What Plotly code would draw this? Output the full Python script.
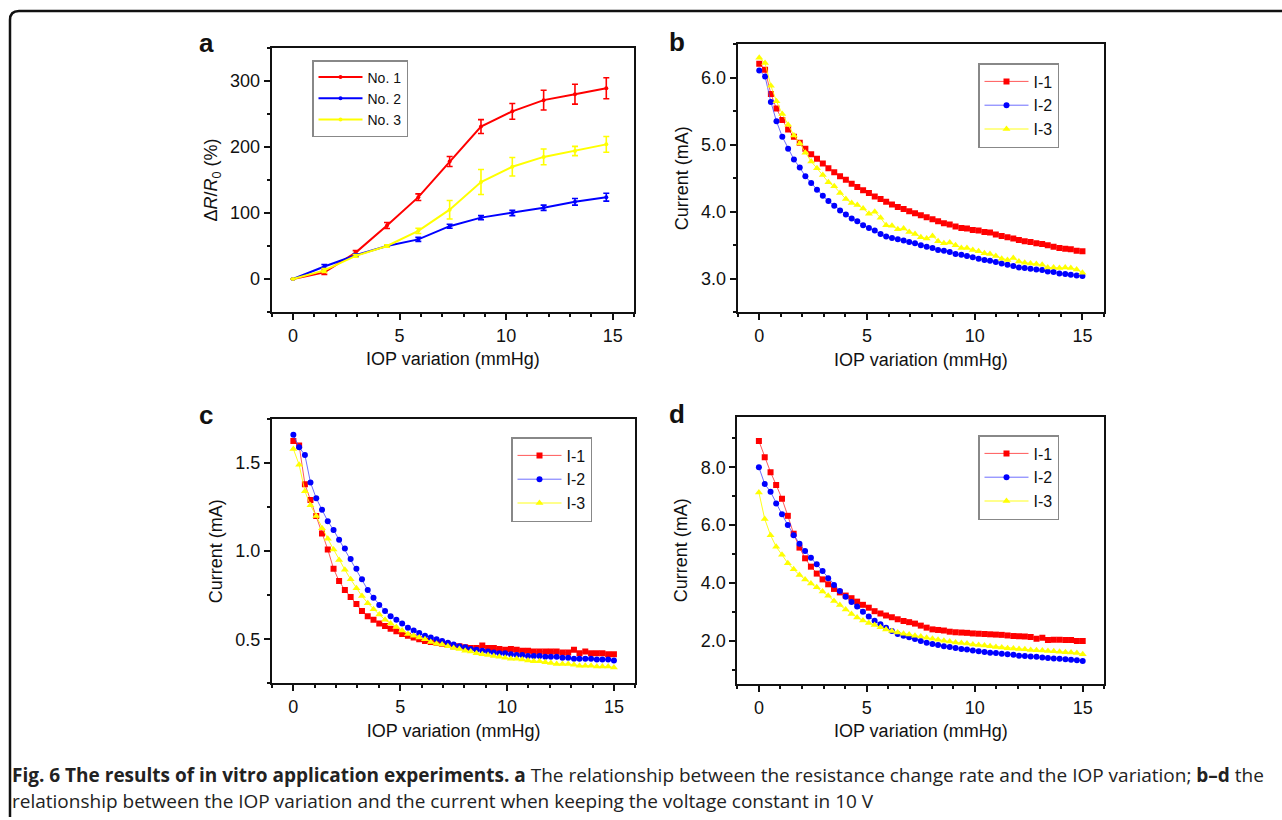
import plotly.graph_objects as go

W, H = 1282, 820

# ---------------- Panel a data ----------------
a_x = [0, 1.47, 2.94, 4.41, 5.88, 7.35, 8.82, 10.29, 11.76, 13.23, 14.7]
a_no1 = [0, 10, 40, 81, 124, 178, 231, 254, 271, 280, 289]
a_no1_err = [0, 3, 3, 4.5, 5, 7.5, 10.5, 12, 15, 15, 16]
a_no2 = [0, 19, 36, 50, 60, 80, 93, 100, 108, 117, 124]
a_no2_err = [0, 3, 2, 2, 3, 3, 3, 4, 4, 5, 6]
a_no3 = [0, 13, 35, 50, 73, 105, 147, 170, 185, 194, 204]
a_no3_err = [0, 3, 2, 2, 4, 14, 19, 14, 12, 7, 12]
a_names = ["No. 1", "No. 2", "No. 3"]

# ---------------- Panels b-d data ----------------
iop = [0, 0.27, 0.54, 0.80, 1.07, 1.34, 1.61, 1.88, 2.14, 2.41, 2.68, 2.95, 3.21, 3.48,
       3.75, 4.02, 4.29, 4.55, 4.82, 5.09, 5.36, 5.63, 5.89, 6.16, 6.43, 6.70, 6.96, 7.23,
       7.50, 7.77, 8.04, 8.30, 8.57, 8.84, 9.11, 9.38, 9.64, 9.91, 10.18, 10.45, 10.71,
       10.98, 11.25, 11.52, 11.79, 12.05, 12.32, 12.59, 12.86, 13.13, 13.39, 13.66, 13.93,
       14.20, 14.46, 14.73, 15.00]
i_names = ["I-1", "I-2", "I-3"]

b_i1 = [6.21, 6.12, 5.76, 5.54, 5.37, 5.23, 5.12, 5.03, 4.94, 4.86, 4.79, 4.72, 4.65, 4.59,
        4.53, 4.48, 4.42, 4.37, 4.32, 4.28, 4.23, 4.19, 4.15, 4.11, 4.07, 4.04, 4.01, 3.98,
        3.95, 3.92, 3.89, 3.86, 3.83, 3.81, 3.78, 3.76, 3.75, 3.73, 3.72, 3.70, 3.69, 3.66,
        3.64, 3.62, 3.60, 3.58, 3.56, 3.55, 3.53, 3.52, 3.50, 3.48, 3.46, 3.45, 3.44, 3.42,
        3.41]
b_i2 = [6.11, 6.02, 5.64, 5.35, 5.12, 4.94, 4.78, 4.66, 4.53, 4.43, 4.33, 4.24, 4.16, 4.09,
        4.02, 3.96, 3.90, 3.86, 3.80, 3.76, 3.72, 3.67, 3.63, 3.61, 3.59, 3.57, 3.55, 3.53,
        3.50, 3.48, 3.46, 3.43, 3.42, 3.40, 3.37, 3.36, 3.34, 3.32, 3.30, 3.28, 3.27, 3.25,
        3.23, 3.21, 3.19, 3.17, 3.16, 3.15, 3.14, 3.13, 3.11, 3.10, 3.08, 3.07, 3.06, 3.05,
        3.04]
b_i3 = [6.30, 6.22, 5.88, 5.65, 5.46, 5.30, 5.14, 5.02, 4.88, 4.75, 4.65, 4.55, 4.44, 4.38,
        4.28, 4.19, 4.13, 4.10, 4.05, 3.97, 4.00, 3.91, 3.80, 3.79, 3.74, 3.75, 3.70, 3.67,
        3.62, 3.60, 3.64, 3.56, 3.53, 3.54, 3.50, 3.46, 3.46, 3.43, 3.41, 3.38, 3.37, 3.34,
        3.30, 3.28, 3.31, 3.26, 3.24, 3.23, 3.22, 3.21, 3.17, 3.17, 3.16, 3.17, 3.16, 3.14,
        3.09]

c_i1 = [1.625, 1.60, 1.38, 1.29, 1.20, 1.10, 1.01, 0.90, 0.83, 0.78, 0.74, 0.70, 0.66, 0.63,
        0.61, 0.59, 0.575, 0.56, 0.545, 0.53, 0.52, 0.51, 0.50, 0.49, 0.485, 0.48, 0.475,
        0.47, 0.46, 0.46, 0.455, 0.45, 0.45, 0.465, 0.45, 0.45, 0.445, 0.44, 0.445, 0.44,
        0.435, 0.435, 0.43, 0.43, 0.43, 0.43, 0.43, 0.425, 0.425, 0.44, 0.42, 0.43, 0.42,
        0.42, 0.42, 0.415, 0.415]
c_i2 = [1.66, 1.59, 1.545, 1.39, 1.30, 1.235, 1.17, 1.12, 1.065, 1.015, 0.955, 0.90, 0.84,
        0.78, 0.735, 0.695, 0.66, 0.63, 0.61, 0.59, 0.565, 0.55, 0.535, 0.52, 0.51, 0.50,
        0.49, 0.48, 0.47, 0.46, 0.455, 0.445, 0.44, 0.435, 0.43, 0.425, 0.42, 0.42, 0.415,
        0.41, 0.41, 0.405, 0.405, 0.405, 0.40, 0.40, 0.40, 0.395, 0.395, 0.39, 0.39, 0.39,
        0.39, 0.385, 0.385, 0.385, 0.38]
c_i3 = [1.58, 1.49, 1.34, 1.26, 1.20, 1.13, 1.07, 1.01, 0.95, 0.895, 0.84, 0.79, 0.745,
        0.705, 0.67, 0.64, 0.61, 0.59, 0.57, 0.55, 0.53, 0.52, 0.51, 0.50, 0.485, 0.475,
        0.47, 0.46, 0.45, 0.445, 0.435, 0.43, 0.42, 0.415, 0.41, 0.405, 0.40, 0.395, 0.39,
        0.39, 0.385, 0.38, 0.375, 0.375, 0.37, 0.365, 0.36, 0.36, 0.36, 0.355, 0.35, 0.35,
        0.35, 0.345, 0.345, 0.345, 0.34]

d_i1 = [8.91, 8.35, 7.83, 7.39, 6.91, 6.32, 5.70, 5.22, 4.85, 4.56, 4.32, 4.12, 3.95, 3.79,
        3.67, 3.56, 3.47, 3.35, 3.24, 3.14, 3.02, 2.94, 2.87, 2.81, 2.74, 2.68, 2.64, 2.59,
        2.52, 2.45, 2.39, 2.37, 2.35, 2.31, 2.29, 2.28, 2.27, 2.25, 2.24, 2.23, 2.22, 2.21,
        2.20, 2.18, 2.16, 2.15, 2.14, 2.13, 2.07, 2.10, 2.02, 2.03, 2.03, 2.02, 2.02, 1.99,
        1.99]
d_i2 = [8.00, 7.42, 7.15, 6.75, 6.37, 6.00, 5.65, 5.35, 5.10, 4.87, 4.64, 4.41, 4.16, 3.93,
        3.72, 3.52, 3.34, 3.18, 3.00, 2.84, 2.69, 2.57, 2.45, 2.33, 2.23, 2.17, 2.12, 2.06,
        1.99, 1.93, 1.88, 1.85, 1.81, 1.78, 1.75, 1.71, 1.69, 1.66, 1.63, 1.61, 1.58, 1.57,
        1.55, 1.53, 1.51, 1.48, 1.47, 1.45, 1.44, 1.42, 1.40, 1.38, 1.37, 1.36, 1.34, 1.32,
        1.30]
d_i3 = [7.13, 6.21, 5.65, 5.25, 4.97, 4.68, 4.47, 4.27, 4.12, 3.98, 3.85, 3.70, 3.55, 3.37,
        3.23, 3.08, 2.92, 2.80, 2.70, 2.61, 2.54, 2.46, 2.39, 2.33, 2.28, 2.24, 2.21, 2.17,
        2.14, 2.10, 2.07, 2.03, 2.00, 1.97, 1.94, 1.92, 1.90, 1.87, 1.85, 1.83, 1.81, 1.78,
        1.76, 1.74, 1.73, 1.71, 1.70, 1.68, 1.67, 1.66, 1.64, 1.63, 1.62, 1.60, 1.59, 1.57,
        1.53]

x_ticks = [0, 5, 10, 15]

RED, BLUE, YEL = "#ff0000", "#0000ff", "#ffff00"
FONT = "Liberation Sans, Arial, sans-serif"


def px_x(p):
    return p / W


def px_y(p):
    return 1 - p / H


fig = go.Figure()

# Panel a
for name, ys, err, col in zip(a_names, [a_no1, a_no2, a_no3],
                              [a_no1_err, a_no2_err, a_no3_err], [RED, BLUE, YEL]):
    fig.add_trace(go.Scatter(
        x=a_x, y=ys, name=name, mode="lines+markers",
        line=dict(color=col, width=2), marker=dict(color=col, size=4, symbol="circle"),
        error_y=dict(type="data", array=err, color=col, thickness=1.6, width=3),
        xaxis="x", yaxis="y", legend="legend"))

# Panels b, c, d
sym = ["square", "circle", "triangle-up"]
cols = [RED, BLUE, YEL]
line_cols = ["rgba(255,60,60,0.85)", "rgba(60,60,255,0.75)", "rgba(255,255,0,0.9)"]
for k, (series, ax, lg) in enumerate([
        ([b_i1, b_i2, b_i3], "2", "legend2"),
        ([c_i1, c_i2, c_i3], "3", "legend3"),
        ([d_i1, d_i2, d_i3], "4", "legend4")]):
    for j, ys in enumerate(series):
        fig.add_trace(go.Scatter(
            x=iop, y=ys, name=i_names[j], mode="lines+markers",
            line=dict(color=line_cols[j], width=1),
            marker=dict(color=cols[j], size=6 if j < 2 else 7, symbol=sym[j]),
            xaxis="x" + ax, yaxis="y" + ax, legend=lg))

# axes geometry (pixel boxes)
boxes = {
    "": (271.7, 634, 48, 312),
    "2": (737.7, 1104, 44.3, 312.3),
    "3": (272, 635.3, 419, 683.3),
    "4": (737.3, 1104.3, 416.7, 684),
}
yconf = {
    "": dict(range=[-50, 350], dtick=100, tick0=0, minor_d=50, fmt=""),
    "2": dict(range=[2.5, 6.5], dtick=1, tick0=0, minor_d=0.5, fmt=".1f"),
    "3": dict(range=[0.25, 1.75], dtick=0.5, tick0=0, minor_d=0.25, fmt=".1f"),
    "4": dict(range=[0.5, 9.75], dtick=2, tick0=0, minor_d=1, fmt=".1f"),
}
ytitles = {
    "": "Δ<i>R</i>/<i>R</i><sub>0</sub> (%)",
    "2": "Current (mA)", "3": "Current (mA)", "4": "Current (mA)",
}
axis_common = dict(showline=True, mirror=True, linecolor="#111", linewidth=2,
                   showgrid=False, zeroline=False, ticks="outside", ticklen=6,
                   tickwidth=1.5, tickcolor="#111",
                   tickfont=dict(family=FONT, size=18, color="#111"))
layout_axes = {}
for key, (l, r, t, b) in boxes.items():
    yc = yconf[key]
    layout_axes["xaxis" + key] = dict(
        domain=[px_x(l), px_x(r)], anchor="y" + key, range=[-1, 16],
        tickvals=x_ticks,
        minor=dict(dtick=1, tick0=0, ticks="outside", ticklen=3, tickwidth=1.5,
                   tickcolor="#111"),
        title=dict(text="IOP variation (mmHg)", font=dict(family=FONT, size=18, color="#111"),
                   standoff=8),
        **axis_common)
    layout_axes["yaxis" + key] = dict(
        domain=[px_y(b), px_y(t)], anchor="x" + key, range=yc["range"],
        dtick=yc["dtick"], tick0=yc["tick0"], tickformat=yc["fmt"],
        minor=dict(dtick=yc["minor_d"], tick0=0, ticks="outside", ticklen=3, tickwidth=1.5,
                   tickcolor="#111"),
        title=dict(text=ytitles[key], font=dict(family=FONT, size=18, color="#111"),
                   standoff=8),
        **axis_common)

legends = {
    "legend": (312, 60, 14),
    "legend2": (978, 63, 16),
    "legend3": (511, 437, 16),
    "legend4": (978, 435, 16),
}
for lg, (lx, ly, fs) in legends.items():
    layout_axes[lg] = dict(x=px_x(lx), y=px_y(ly), bgcolor="white", bordercolor="#888",
                           borderwidth=1.5, font=dict(family=FONT, size=fs, color="#111"),
                           xanchor="left", yanchor="top", tracegroupgap=0, itemwidth=44)

annotations = []
for lab, (lx, ly) in zip(["a", "b", "c", "d"], [(197, 43), (667, 42), (197, 415), (667, 414)]):
    annotations.append(dict(text="<b>%s</b>" % lab, x=px_x(lx), y=px_y(ly), xref="paper",
                            yref="paper", xanchor="left", yanchor="middle", showarrow=False,
                            font=dict(family=FONT, size=26, color="#111")))

cap_font = dict(family="Open Sans, sans-serif", size=19, color="#222")
annotations.append(dict(
    text="<b>Fig. 6 The results of in vitro application experiments. a</b> The relationship "
         "between the resistance change rate and the IOP variation; <b>b–d</b> the",
    x=px_x(10), y=px_y(775), xref="paper", yref="paper", xanchor="left", yanchor="middle",
    showarrow=False, align="left", font=cap_font))
annotations.append(dict(
    text="relationship between the IOP variation and the current when keeping the voltage "
         "constant in 10 V",
    x=px_x(10), y=px_y(801), xref="paper", yref="paper", xanchor="left", yanchor="middle",
    showarrow=False, align="left", font=cap_font))


# rounded border frame
def pt(x, y):
    return "%f,%f" % (px_x(x), px_y(y))


r = 9
path = ("M " + pt(10, 817) + " L " + pt(10, 11 + r) + " Q " + pt(10, 11) + " " + pt(10 + r, 11)
        + " L " + pt(1300, 11))
shapes = [dict(type="path", path=path, xref="paper", yref="paper",
               line=dict(color="#111", width=2.5))]

fig.update_layout(
    width=W, height=H, margin=dict(l=0, r=0, t=0, b=0),
    paper_bgcolor="white", plot_bgcolor="white",
    font=dict(family=FONT, size=18, color="#111"),
    showlegend=True, annotations=annotations, shapes=shapes,
    **layout_axes)

fig.write_html("out.html", config={"displayModeBar": False},
               post_script="document.body.style.margin='0';document.body.style.padding='0';"
                           "document.documentElement.style.overflow='hidden';")
